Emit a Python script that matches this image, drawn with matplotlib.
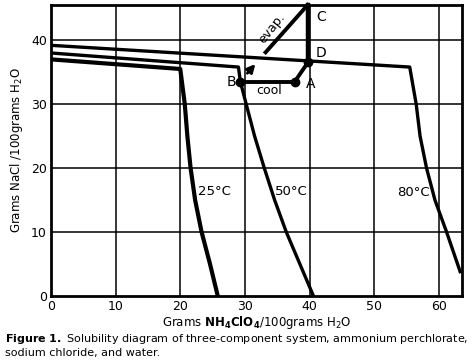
import matplotlib.pyplot as plt

# solubility curves (g NH4ClO4 / 100 g H2O vs g NaCl / 100 g H2O)
t25_x = [0, 20.0, 20.7, 21.1, 21.6, 22.3, 23.3, 24.6, 25.8]
t25_y = [37.0, 35.5, 30, 25, 20, 15, 10, 5, 0]

t50_x = [0, 29.0, 29.3, 30.2, 31.5, 33.0, 34.6, 36.4, 38.5, 40.6]
t50_y = [38.0, 35.8, 33.5, 30, 25, 20, 15, 10, 5, 0]

t80_x = [0, 55.5, 56.5, 57.1, 58.1, 59.4, 61.2, 63.3]
t80_y = [39.2, 35.8, 30, 25, 20, 15, 10, 3.8]

# process path points
pt_names = ['A', 'B', 'C', 'D']
pt_x = [37.7, 29.3, 39.8, 39.8]
pt_y = [33.5, 33.5, 45.5, 36.6]
evap_x = [33.2, 39.7]
evap_y = [38.1, 45.5]

xticks = [0, 10, 20, 30, 40, 50, 60]
yticks = [0, 10, 20, 30, 40]

fig = plt.figure(figsize=(4.72, 3.6), dpi=100)
ax = fig.add_axes([0.108, 0.178, 0.871, 0.808])

for v in xticks[1:]:
    ax.axvline(v, color='black', lw=1.1, zorder=1)
for v in yticks[1:]:
    ax.axhline(v, color='black', lw=1.1, zorder=1)

ax.plot(t25_x, t25_y, color='black', lw=3.0, zorder=3)
ax.plot(t50_x, t50_y, color='black', lw=2.4, zorder=3)
ax.plot(t80_x, t80_y, color='black', lw=2.4, zorder=3)

A = (pt_x[0], pt_y[0]); B = (pt_x[1], pt_y[1])
C = (pt_x[2], pt_y[2]); D = (pt_x[3], pt_y[3])
# cool: B -> A, then A -> D, evaporate D -> C
ax.plot([B[0], A[0]], [B[1], A[1]], color='black', lw=2.8, zorder=4)
ax.plot([A[0], D[0]], [A[1], D[1]], color='black', lw=2.8, zorder=4)
ax.plot([D[0], C[0]], [D[1], C[1]], color='black', lw=3.2, zorder=4, clip_on=False)
ax.plot(evap_x, evap_y, color='black', lw=2.8, zorder=4, clip_on=False)
ax.plot([A[0], B[0], D[0]], [A[1], B[1], D[1]], 'o', color='black', ms=6, zorder=5)
ax.annotate('', xy=(31.9, 36.6), xytext=(30.1, 34.5),
            arrowprops=dict(arrowstyle='-|>', color='black', lw=2, mutation_scale=12))

ax.text(41.0, 43.6, 'C', fontsize=10, ha='left', va='center')
ax.text(41.0, 38.0, 'D', fontsize=10, ha='left', va='center')
ax.text(40.1, 33.2, 'A', fontsize=10, ha='center', va='center')
ax.text(27.9, 33.5, 'B', fontsize=10, ha='center', va='center')
ax.text(33.8, 32.2, 'cool', fontsize=9, ha='center', va='center')
ax.text(34.2, 41.8, 'evap.', fontsize=9, ha='center', va='center', rotation=52)

ax.text(25.3, 16.4, '25°C', fontsize=9.5, ha='center', va='center')
ax.text(37.2, 16.4, '50°C', fontsize=9.5, ha='center', va='center')
ax.text(56.0, 16.1, '80°C', fontsize=9.5, ha='center', va='center')

ax.set_xlim(0, 63.6)
ax.set_ylim(0, 45.5)
ax.set_xticks(xticks)
ax.set_yticks(yticks)
ax.tick_params(length=0, labelsize=9, pad=3)
for s in ax.spines.values():
    s.set_linewidth(2)

ax.set_ylabel('Grams NaCl /100grams H$_2$O', fontsize=8.5, labelpad=4)
ax.set_xlabel(r'Grams $\mathbf{NH_4ClO_4}$/100grams H$_2$O', fontsize=8.5, labelpad=1)

fig.text(0.01, 0.058, r'$\mathbf{Figure\ 1.}$ Solubility diagram of three-component system, ammonium perchlorate,',
         fontsize=8, ha='left', va='center')
fig.text(0.01, 0.020, 'sodium chloride, and water.', fontsize=8, ha='left', va='center')

fig.savefig('out.png', dpi=100)
